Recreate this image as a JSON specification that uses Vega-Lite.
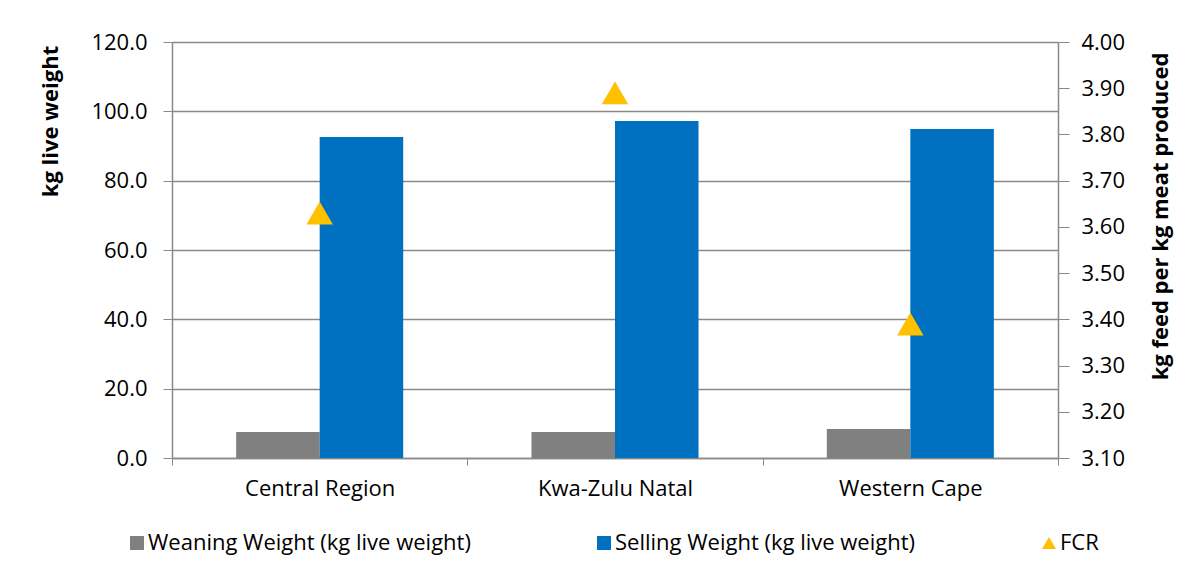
{
  "$schema": "https://vega.github.io/schema/vega-lite/v6.json",
  "width": 886,
  "height": 416,
  "autosize": {"type": "none"},
  "padding": {"left": 172, "top": 42, "right": 136, "bottom": 123},
  "background": "white",
  "config": {
    "font": "Open Sans",
    "view": {"stroke": null},
    "axis": {"labelFont": "Open Sans", "titleFont": "Open Sans", "labelColor": "#000000", "titleColor": "#000000", "domainColor": "#898989", "tickColor": "#898989", "gridColor": "#898989", "labelFontSize": 22, "titleFontSize": 22, "titleFontWeight": "bold"},
    "legend": {"labelFont": "Open Sans", "labelFontSize": 22, "labelColor": "#000000"}
  },
  "data": {
    "values": [
      {"region": "Central Region", "series": "Weaning Weight (kg live weight)", "value": 7.5},
      {"region": "Central Region", "series": "Selling Weight (kg live weight)", "value": 92.6},
      {"region": "Central Region", "series": "FCR", "value": 3.63},
      {"region": "Kwa-Zulu Natal", "series": "Weaning Weight (kg live weight)", "value": 7.5},
      {"region": "Kwa-Zulu Natal", "series": "Selling Weight (kg live weight)", "value": 97.2},
      {"region": "Kwa-Zulu Natal", "series": "FCR", "value": 3.89},
      {"region": "Western Cape", "series": "Weaning Weight (kg live weight)", "value": 8.4},
      {"region": "Western Cape", "series": "Selling Weight (kg live weight)", "value": 94.9},
      {"region": "Western Cape", "series": "FCR", "value": 3.39}
    ]
  },
  "encoding": {
    "x": {
      "field": "region", "type": "nominal", "sort": null,
      "scale": {"paddingInner": 0, "paddingOuter": 0},
      "axis": {"title": null, "labelAngle": 0, "tickBand": "extent", "tickSize": 7, "labelPadding": 13, "domainWidth": 1.5}
    },
    "color": {
      "field": "series", "type": "nominal",
      "scale": {"domain": ["Weaning Weight (kg live weight)", "Selling Weight (kg live weight)", "FCR"], "range": ["#808080", "#0070C0", "#FFC000"]},
      "legend": {"title": null, "orient": "none", "direction": "horizontal", "legendX": -46, "legendY": 490, "symbolSize": 196, "symbolStrokeWidth": 0, "labelOffset": 0, "columnPadding": 122, "labelLimit": 500}
    },
    "shape": {
      "field": "series", "type": "nominal",
      "scale": {"domain": ["Weaning Weight (kg live weight)", "Selling Weight (kg live weight)", "FCR"], "range": ["square", "square", "triangle-up"]},
      "legend": {"title": null, "orient": "none", "direction": "horizontal", "legendX": -46, "legendY": 490, "symbolSize": 196, "symbolStrokeWidth": 0, "labelOffset": 0, "columnPadding": 122, "labelLimit": 500}
    }
  },
  "layer": [
    {
      "transform": [{"filter": "datum.series !== 'FCR'"}],
      "mark": {"type": "bar"},
      "encoding": {
        "xOffset": {"field": "series", "type": "nominal", "scale": {"domain": ["Weaning Weight (kg live weight)", "Selling Weight (kg live weight)"], "paddingOuter": 0.768, "paddingInner": 0}},
        "y": {
          "field": "value", "type": "quantitative",
          "scale": {"domain": [0, 120], "nice": false},
          "axis": {"title": "kg live weight", "titleX": -122, "titleY": 79, "titleAlign": "center", "titleBaseline": "middle", "titleAngle": -90, "values": [0, 20, 40, 60, 80, 100, 120], "format": ".1f", "tickSize": 9, "labelPadding": 16, "grid": true, "gridWidth": 1.5, "domainWidth": 1.5}
        }
      }
    },
    {
      "transform": [{"filter": "datum.series === 'FCR'"}],
      "mark": {"type": "point", "filled": true, "opacity": 1, "size": 700},
      "encoding": {
        "y": {
          "field": "value", "type": "quantitative",
          "scale": {"domain": [3.1, 4.0], "nice": false, "zero": false},
          "axis": {"title": "kg feed per kg meat produced", "orient": "right", "titleX": 102, "titleY": 174, "titleAlign": "center", "titleBaseline": "middle", "titleAngle": -90, "values": [3.1, 3.2, 3.3, 3.4, 3.5, 3.6, 3.7, 3.8, 3.9, 4.0], "format": ".2f", "tickSize": 11, "labelPadding": 12, "grid": false, "domainWidth": 1.5}
        }
      }
    }
  ],
  "resolve": {"scale": {"y": "independent"}}
}
